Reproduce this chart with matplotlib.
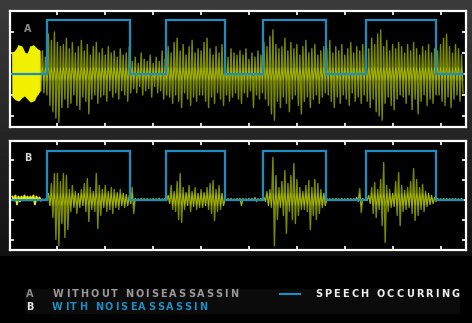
import numpy as np
import matplotlib
matplotlib.use("Agg")
import matplotlib.pyplot as plt
from matplotlib.font_manager import FontProperties

W, H = 472, 323

# waveform peaks, one pair per sample (sample step 0.0625)
sample_step = 0.0625
lead_end = 0.65  # pre-speech noise ends here

hi_a = [1.0, 1.1, 1.35, 1.3, 1.0, 0.95, 1.3, 1.35, 1.2, 1.1,
        1.1, 0.8,
        1.9, 1.6, 2.0, 1.5, 1.3,
        1.4, 1.7, 1.2, 1.5, 1.0, 1.3, 1.6, 1.1, 1.4, 0.9, 1.3, 1.5, 1.0,
        1.2, 0.9, 1.3, 1.0, 1.1, 0.8, 1.2, 0.9, 1.0, 1.3,
        0.6, 0.8, 0.5, 1.0, 0.7, 0.6, 0.9, 0.5, 0.8, 0.6, 1.1, 0.7,
        1.3, 1.0, 1.5, 1.7, 1.1, 1.4, 0.9, 1.3, 1.6, 1.0, 1.2,
        1.1, 1.5, 1.7, 1.2, 0.9, 1.3, 1.0, 1.4, 1.1, 0.8, 1.2, 1.0, 0.9, 1.1,
        0.9, 1.2, 0.7, 1.0, 0.8, 1.1, 0.9,
        1.5, 1.3, 1.8, 2.1, 1.4, 1.2,
        1.3, 1.7, 1.1, 1.5, 1.2, 1.4, 0.9, 1.3, 1.6, 1.0, 1.2, 1.4, 0.9, 1.1, 1.3,
        1.2, 1.6, 1.0, 1.3, 1.1, 1.4, 0.9, 1.2, 1.5, 1.0, 1.3, 1.1, 1.4,
        1.5, 1.2, 1.7, 1.4, 1.9, 2.1, 1.3, 1.6, 1.1, 1.4, 1.2, 1.5,
        1.3, 1.0, 1.4, 1.1, 1.5, 1.2, 0.9, 1.3, 1.1, 1.4, 1.0, 1.2,
        1.1, 1.4, 1.7, 1.9, 1.3, 1.0, 1.4, 1.2, 0.9]
lo_a = [-1.05, -1.2, -1.25, -1.1, -1.0, -1.15, -1.3, -1.25, -1.0, -0.8,
        -0.9, -1.0,
        -1.5, -1.8, -2.1, -2.3, -1.6,
        -1.2, -1.6, -1.4, -1.0, -1.5, -1.7, -1.1, -1.3, -1.9, -1.2, -1.0, -1.4, -1.1,
        -1.0, -1.3, -0.8, -1.1, -0.9, -1.2, -0.8, -1.0, -1.3, -0.9,
        -0.7, -0.9, -0.6, -1.0, -0.8, -0.7, -1.1, -0.6, -0.9, -0.8, -1.2, -1.0,
        -1.1, -1.4, -1.0, -1.3, -1.6, -0.9, -1.2, -1.5, -1.1, -1.3, -1.0,
        -1.0, -1.3, -1.6, -1.1, -1.4, -0.9, -1.2, -1.5, -1.0, -1.3, -1.1, -0.9, -1.2, -1.4,
        -0.9, -1.1, -0.8, -1.6, -1.0, -1.2, -0.9,
        -1.2, -1.5, -1.9, -2.2, -1.3, -1.6,
        -1.1, -1.4, -1.8, -1.2, -1.0, -1.5, -1.9, -1.3, -1.1, -1.6, -1.2, -1.0, -1.4, -1.1, -0.9,
        -1.0, -1.3, -1.6, -1.1, -1.4, -1.0, -1.2, -1.5, -0.9, -1.3, -1.1, -1.4, -1.0,
        -1.3, -1.6, -1.2, -1.8, -2.0, -2.2, -1.4, -1.1, -1.5, -1.7, -1.2, -1.0,
        -1.1, -1.4, -1.0, -1.7, -1.2, -1.9, -1.3, -1.0, -1.5, -1.2, -1.4, -1.0,
        -1.0, -1.3, -1.5, -1.1, -1.6, -1.2, -1.0, -1.3, -0.9]

hi_b = [0.15, 0.2, 0.15, 0.15, 0.2, 0.15, 0.15, 0.2, 0.15, 0.1,
        0.02, 0.02,
        0.3, 0.8, 1.3, 1.3, 0.9,
        1.3, 1.2, 0.5, 0.7, 0.4, 0.3, 0.5, 0.8, 1.05, 0.6, 0.4, 1.3, 0.7,
        0.5, 0.7, 0.4, 0.6, 0.5, 0.35, 0.5, 0.3, 0.25, 0.2,
        0.6, 0.05, 0.03, 0.05, 0.04, 0.05, 0.03, 0.05, 0.04, 0.06, 0.03, 0.05,
        0.2, 0.7, 0.4, 0.9, 1.3, 0.6, 0.35, 0.7, 0.4, 0.6, 0.3,
        0.5, 0.35, 0.6, 0.8, 0.95, 0.5, 0.7, 0.3, 0.05, 0.04, 0.05, 0.03, 0.05, 0.06,
        0.05, 0.04, 0.05, 0.05, 0.1, 0.04, 0.05,
        0.1, 0.4, 0.5, 2.1, 1.2, 0.6,
        0.9, 1.45, 0.8, 1.2, 1.8, 1.0, 0.6, 0.4, 0.7, 0.95, 0.6, 1.0, 0.8, 0.5, 0.3,
        0.05, 0.04, 0.05, 0.05, 0.03, 0.05, 0.04, 0.05, 0.05, 0.04, 0.1, 0.55, 0.05,
        0.05, 0.2, 0.6, 0.85, 0.5, 1.0, 1.85, 0.7, 0.5, 0.3, 0.9, 1.35,
        0.7, 0.45, 0.6, 0.9, 1.55, 1.0, 0.6, 0.75, 0.4, 0.3, 0.2, 0.1,
        0.05, 0.04, 0.05, 0.05, 0.04, 0.05, 0.05, 0.04, 0.05]
lo_b = [-0.05, -0.25, -0.1, -0.05, -0.05, -0.05, -0.05, -0.25, -0.05, -0.05,
        -0.02, -0.02,
        -0.3, -0.9, -2.0, -2.3, -1.2,
        -1.9, -1.5, -0.6, -0.4, -0.7, -0.4, -0.3, -0.6, -1.1, -0.5, -0.6, -1.45, -0.8,
        -0.4, -0.6, -0.5, -0.7, -0.4, -0.5, -0.3, -0.4, -0.3, -0.2,
        -0.7, -0.05, -0.03, -0.05, -0.04, -0.05, -0.03, -0.05, -0.04, -0.06, -0.03, -0.05,
        -0.2, -0.5, -0.6, -1.0, -1.15, -0.5, -0.3, -0.6, -0.35, -0.5, -0.4,
        -0.4, -0.3, -0.5, -0.7, -1.05, -0.6, -0.5, -0.3, -0.05, -0.04, -0.05, -0.03, -0.05, -0.3,
        -0.05, -0.04, -0.05, -0.05, -0.1, -0.04, -0.05,
        -0.1, -0.3, -0.4, -2.3, -1.0, -0.4,
        -0.8, -1.7, -0.6, -1.0, -1.2, -0.8, -0.5, -0.5, -0.6, -1.5, -0.8, -1.0, -0.7, -0.4, -0.3,
        -0.05, -0.04, -0.05, -0.05, -0.03, -0.05, -0.04, -0.05, -0.05, -0.04, -0.1, -0.65, -0.05,
        -0.05, -0.2, -0.7, -0.9, -0.5, -1.3, -2.15, -0.6, -0.4, -0.35, -0.8, -1.3,
        -0.6, -0.5, -0.4, -0.7, -1.05, -0.8, -0.5, -0.6, -0.35, -0.25, -0.2, -0.1,
        -0.05, -0.04, -0.05, -0.05, -0.04, -0.05, -0.05, -0.04, -0.05]

# speech occurring intervals
speech_on = [0.79, 3.27, 5.29, 7.44]
speech_off = [2.52, 4.50, 6.60, 8.90]
speech_start, speech_end = 0.06, 9.46

BLUE = "#1b8ec2"
OLIVE = "#8a9a00"
BRIGHT = "#d6e800"
LEAD = "#f0f000"


def fig_box(x0, y0, x1, y1):
    return [x0 / W, 1 - y1 / H, (x1 - x0) / W, (y1 - y0) / H]


def draw_panel(ax, hi, lo, high, ylim, label, label_color, lead_fill):
    hi = np.array(hi)
    lo = np.array(lo)
    t = sample_step * (np.arange(len(hi)) + 1)
    # zigzag waveform
    tz = np.column_stack([t, t + sample_step / 2]).ravel()
    yz = np.column_stack([hi, lo]).ravel()
    ax.plot(tz, yz, color=OLIVE, lw=1.0, alpha=0.9, zorder=2)
    ax.plot(tz, np.clip(yz, -0.3, 0.3), color=BRIGHT, lw=0.6, alpha=0.5, zorder=3)

    lead = t < lead_end
    if lead_fill:
        ax.fill_between(t[lead], lo[lead], hi[lead], color=LEAD, lw=1.0,
                        edgecolor=LEAD, zorder=4)
    else:
        lz = np.column_stack([t[lead], t[lead] + sample_step / 2]).ravel()
        ly = np.column_stack([hi[lead], lo[lead]]).ravel()
        ax.plot(lz, ly, color=LEAD, lw=1.3, zorder=4)

    # speech occurring step line
    xs, ys = [speech_start], [0]
    for a, b in zip(speech_on, speech_off):
        xs += [a, a, b, b]
        ys += [0, high, high, 0]
    xs.append(speech_end)
    ys.append(0)
    ax.plot(xs, ys, color=BLUE, lw=1.6, solid_joinstyle="miter", zorder=5)

    ax.set_facecolor("black")
    ax.set_xlim(0, 457 / 48)
    ax.set_ylim(*ylim)
    ax.set_xticks(range(1, 10))
    ax.set_yticks([-2, -1, 0, 1, 2])
    ax.tick_params(direction="in", length=3, width=1.2, color="white",
                   top=True, right=True, labelbottom=False, labelleft=False)
    for sp in ax.spines.values():
        sp.set_color("white")
        sp.set_linewidth(1.6)
        sp.set_zorder(6)
    ax.text(0.04, 0.84, label, transform=ax.transAxes, color=label_color,
            fontsize=7, fontweight="bold", ha="center", va="center", zorder=7)


def tracked_text(fig, x0, x1, y, s, color, size=7):
    renderer = fig.canvas.get_renderer()
    prop = FontProperties(family="DejaVu Sans", size=size, weight="bold")
    full = renderer.get_text_width_height_descent(s, prop, ismath=False)[0]
    gap = (x1 - x0 - full) / (len(s) - 1)
    for i, ch in enumerate(s):
        w = renderer.get_text_width_height_descent(s[:i], prop, ismath=False)[0] if i else 0
        fig.text((x0 + w + i * gap) / W, 1 - y / H, ch, color=color,
                 fontproperties=prop, ha="left", va="center")


fig = plt.figure(figsize=(W / 100, H / 100), dpi=100, facecolor="black")

# dark grey backdrop behind the panels
bg = fig.add_axes([0, 1 - 256 / H, 1, 256 / H], zorder=-10)
grad = np.linspace(0.23, 0.07, 64).reshape(-1, 1)
bg.imshow(grad, cmap="gray", vmin=0, vmax=1, aspect="auto", extent=[0, 1, 0, 1])
bg.axis("off")

leg_bg = fig.add_axes(fig_box(25, 289, 460, 314), zorder=-5)
leg_bg.axis("off")
leg_bg.add_patch(plt.Rectangle((0, 0), 1, 1, color="#0b0b0b", transform=leg_bg.transAxes))

ax_a = fig.add_axes(fig_box(9.5, 10.5, 465.5, 126.5))
draw_panel(ax_a, hi_a, lo_a, 2.55, (-2.5, 3.02), "A", "#8a8a8a", True)

ax_b = fig.add_axes(fig_box(9.5, 140.5, 465.5, 249.5))
draw_panel(ax_b, hi_b, lo_b, 2.45, (-2.5, 2.95), "B", "#d8d8d8", False)

# legend
fig.text(30 / W, 1 - 294 / H, "A", color="#8c8c8c", fontsize=7, fontweight="bold",
         ha="center", va="center")
fig.text(30 / W, 1 - 306.5 / H, "B", color="#e6e6e6", fontsize=7, fontweight="bold",
         ha="center", va="center")
tracked_text(fig, 53, 238, 294, "WITHOUT NOISEASSASSIN", "#9a9a9a")
tracked_text(fig, 52, 207, 306.5, "WITH NOISEASSASSIN", BLUE)
fig.add_artist(plt.Line2D([280 / W, 300 / W], [1 - 294 / H, 1 - 294 / H], color=BLUE, lw=1.5))
tracked_text(fig, 315, 459, 294, "SPEECH OCCURRING", "#f0f0f0")

fig.savefig("out.png", dpi=100, facecolor="black")
